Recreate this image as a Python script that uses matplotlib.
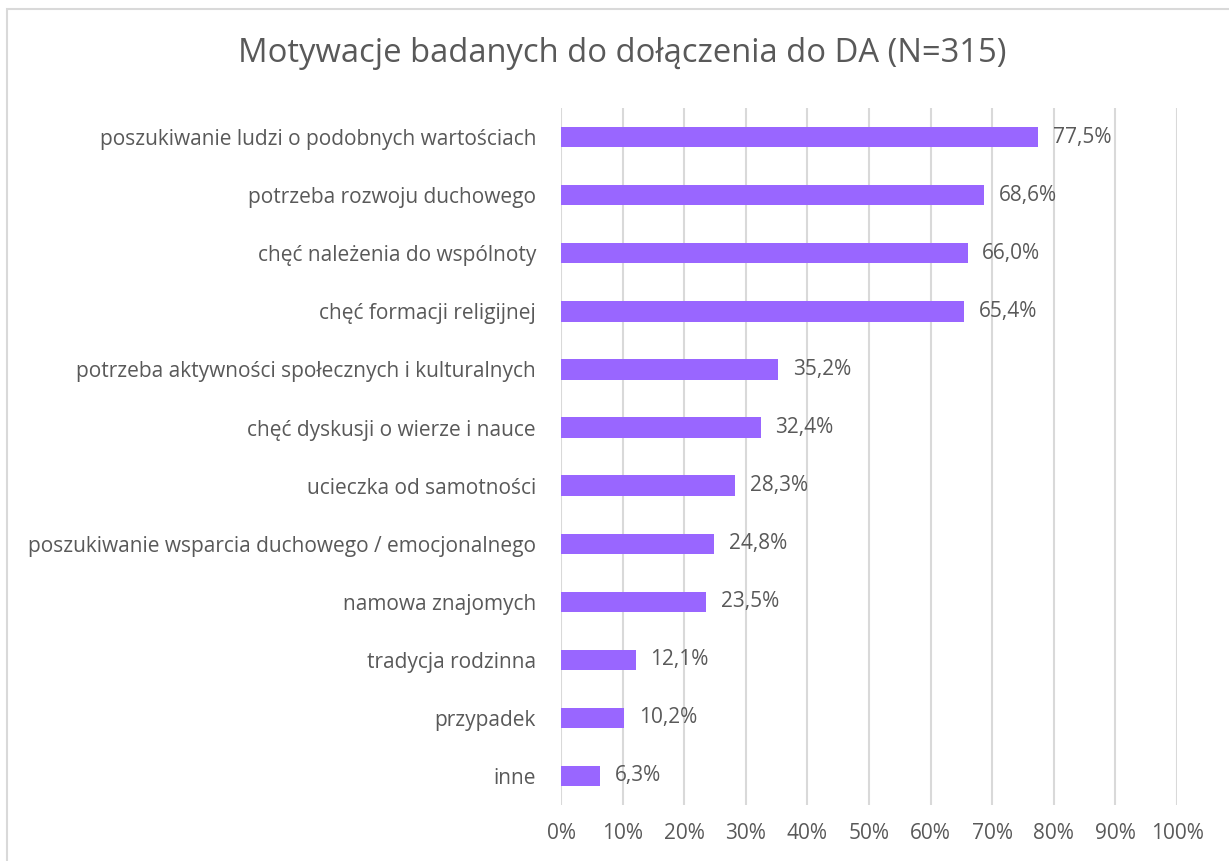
import matplotlib.pyplot as plt
from matplotlib.patches import Rectangle

categories = [
    "poszukiwanie ludzi o podobnych wartościach",
    "potrzeba rozwoju duchowego",
    "chęć należenia do wspólnoty",
    "chęć formacji religijnej",
    "potrzeba aktywności społecznych i kulturalnych",
    "chęć dyskusji o wierze i nauce",
    "ucieczka od samotności",
    "poszukiwanie wsparcia duchowego / emocjonalnego",
    "namowa znajomych",
    "tradycja rodzinna",
    "przypadek",
    "inne",
]
values = [77.5, 68.6, 66.0, 65.4, 35.2, 32.4, 28.3, 24.8, 23.5, 12.1, 10.2, 6.3]
ticks = list(range(0, 101, 10))

plt.rcParams["font.family"] = ["Open Sans", "DejaVu Sans"]
text_col = "#595959"

fig = plt.figure(figsize=(12.29, 8.61), dpi=100)
ax = fig.add_axes([0.4565, 0.065, 0.5012, 0.8095])

y = list(range(len(categories)))
ax.barh(y, values, height=0.35, color="#9966FF", zorder=3)
ax.set_ylim(len(categories) - 0.5, -0.5)
ax.set_xlim(0, 100)
ax.set_yticks(y)
ax.set_yticklabels(categories, fontsize=15, color=text_col)
ax.set_xticks(ticks)
ax.set_xticklabels([f"{t}%" for t in ticks], fontsize=15, color=text_col)
ax.tick_params(axis="y", length=0, pad=18)
ax.tick_params(axis="x", length=0, pad=13)
ax.grid(axis="x", color="#D9D9D9", linewidth=1.5, zorder=0)
for s in ax.spines.values():
    s.set_visible(False)

for yi, v in zip(y, values):
    ax.text(v + 2.4, yi, f"{v:.1f}%".replace(".", ","), va="center", ha="left",
            fontsize=15, color=text_col)

fig.text(0.506, 0.938, "Motywacje badanych do dołączenia do DA (N=315)",
         ha="center", va="center", fontsize=23.6, color=text_col)

fig.patches.append(Rectangle((7 / 1229, -0.1), 1.2, 1 - 9 / 861 + 0.1,
                             transform=fig.transFigure, fill=False,
                             edgecolor="#D9D9D9", linewidth=1.5))

fig.savefig("out.png", dpi=100)
